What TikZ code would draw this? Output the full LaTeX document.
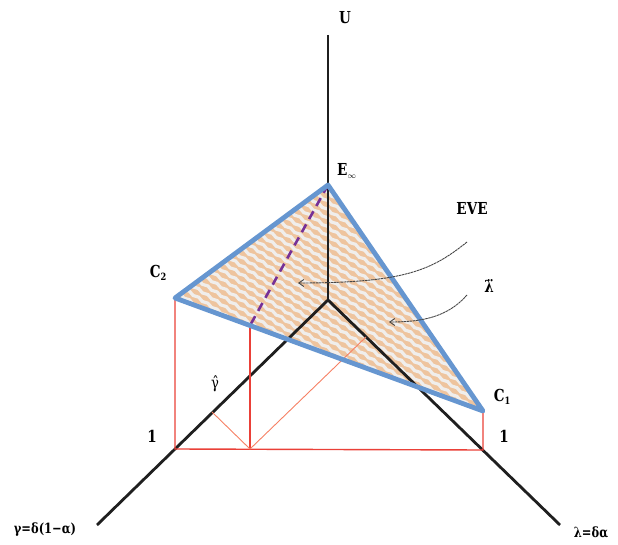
\documentclass[tikz,border=0pt]{standalone}
\usepackage{fontspec}
\setmainfont{DejaVu Serif}
\newfontfamily\lab{DejaVu Serif}[FakeStretch=0.82]
\usetikzlibrary{arrows.meta,decorations.pathmorphing}
\definecolor{axblue}{RGB}{102,150,208}
\definecolor{tanfill}{RGB}{238,196,158}
\definecolor{stripe}{RGB}{240,238,236}
\definecolor{redl}{RGB}{234,64,56}
\definecolor{orl}{RGB}{246,128,100}
\definecolor{purp}{RGB}{118,48,150}
\definecolor{arrg}{RGB}{70,70,70}
\tikzset{
  axis/.style={line width=2.8pt, black!88},
  edge/.style={line width=4.8pt, axblue, line join=round, line cap=round},
  redline/.style={line width=1.4pt, redl},
  thinred/.style={line width=0.9pt, orl},
  purpdash/.style={line width=2.6pt, purp, dash pattern=on 9pt off 6pt},
  curvearrow/.style={line width=0.9pt, arrg, dash pattern=on 2.5pt off 0.6pt, -{Straight Barb[length=5pt,width=7pt]}},
  lbl/.style={font=\lab\bfseries\fontsize{16.5}{17}\selectfont, inner sep=0pt},
  axlbl/.style={font=\lab\bfseries\fontsize{14}{14}\selectfont, inner sep=0pt},
}
\begin{document}
\begin{tikzpicture}[x=1pt,y=-1pt]
\useasboundingbox (0,0) rectangle (618,545);
% points
\coordinate (O) at (328,300);
\coordinate (Utop) at (328,35);
\coordinate (Gend) at (97,525);
\coordinate (Lend) at (560,525);
\coordinate (E) at (328,185);
\coordinate (C2) at (175,298);
\coordinate (C1) at (483,411);
\coordinate (G1) at (175,449);
\coordinate (L1) at (483,450);
\coordinate (P) at (250,449);
\coordinate (M) at (250,325.5);
\coordinate (PG) at (212,412);
\coordinate (PL) at (366,337);
% triangle fill with wavy stripes
\fill[tanfill] (E) -- (C2) -- (C1) -- cycle;
\begin{scope}
\clip (E) -- (C2) -- (C1) -- cycle;
\foreach \i in {0,...,30}{
  \draw[stripe, line width=3.2pt, decorate, decoration={snake, segment length=11pt, amplitude=0.8pt}]
    (140,{45+\i*8.6}) -- ++(420,273);
}
\end{scope}
% axes
\draw[axis] (Utop) -- (O);
\draw[axis] (O) -- (Gend);
\draw[axis] (O) -- (Lend);
% red construction lines
\draw[redline] (C2) -- (G1) -- (L1) -- (C1);
\draw[redline] (M) -- (P);
\draw[thinred] (PG) -- (P) -- (PL);
% purple dashed
\draw[purpdash] (E) -- (M);
% triangle edges
\draw[edge] (E) -- (C2) -- (C1) -- cycle;
% labels
\node[lbl] (lU) at (345,18) {U};
\node[lbl, anchor=west] (lE) at (337,171) {E\raisebox{-3pt}{\fontsize{8}{8}\selectfont$\infty$}};
\node[lbl] (lEVE) at (472,208) {EVE};
\node[lbl] (lLam) at (489,286) {λ̈};
\node[lbl] (lC2) at (158,273) {C\raisebox{-3pt}{\fontsize{10}{10}\selectfont 2}};
\node[lbl] (lC1) at (502,397) {C\raisebox{-3pt}{\fontsize{10}{10}\selectfont 1}};
\node[lbl] (l1a) at (152,436) {1};
\node[lbl] (l1b) at (504,436) {1};
\node[inner sep=0pt, font=\lab\fontsize{16}{16}\selectfont] (lgh) at (215,384) {γ̂};
\node[axlbl] (lgam) at (45,530) {γ=δ(1−α)};
\node[axlbl] (llam) at (591,532) {λ=δα};
% curved arrows
\coordinate (a1s) at (467,242);
\coordinate (a1e) at (298,283);
\coordinate (a2s) at (467,295);
\coordinate (a2e) at (389,322);
\draw[curvearrow] (a1s) .. controls (432,270) and (405,283) .. (a1e);
\draw[curvearrow] (a2s) .. controls (447,318) and (420,322) .. (a2e);
\end{tikzpicture}
\end{document}
